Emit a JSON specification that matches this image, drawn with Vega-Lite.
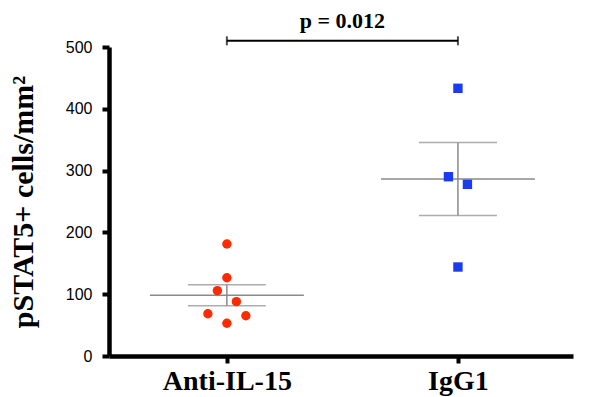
{
  "$schema": "https://vega.github.io/schema/vega-lite/v6.json",
  "width": 464,
  "height": 309,
  "autosize": "none",
  "padding": {"left": 109, "top": 47, "right": 35, "bottom": 41},
  "background": "white",
  "config": {"view": {"stroke": null}},
  "datasets": {
    "cells": [
      {"group": "Anti-IL-15", "value": 181.2, "jitter": 0},
      {"group": "Anti-IL-15", "value": 126.7, "jitter": 0},
      {"group": "Anti-IL-15", "value": 105.7, "jitter": -1},
      {"group": "Anti-IL-15", "value": 87.9, "jitter": 1},
      {"group": "Anti-IL-15", "value": 68.4, "jitter": -2},
      {"group": "Anti-IL-15", "value": 65.2, "jitter": 2},
      {"group": "Anti-IL-15", "value": 52.9, "jitter": 0},
      {"group": "IgG1", "value": 433.2, "jitter": 0},
      {"group": "IgG1", "value": 290.1, "jitter": -1},
      {"group": "IgG1", "value": 277.8, "jitter": 1},
      {"group": "IgG1", "value": 144.0, "jitter": 0}
    ],
    "bracket": [
      {"from": "Anti-IL-15", "to": "IgG1", "y": 510, "ty": 530, "label": "p = 0.012"}
    ]
  },
  "layer": [
    {
      "data": {"name": "cells"},
      "mark": {"type": "errorbar", "extent": "stderr", "color": "#8a8a8a", "thickness": 1.5, "size": 78, "ticks": true},
      "encoding": {
        "x": {
          "field": "group", "type": "nominal",
          "scale": {"type": "point", "domain": ["Anti-IL-15", "IgG1"], "padding": 0.504, "align": 0.506},
          "axis": {
            "title": null, "labelAngle": 0, "grid": false,
            "domainColor": "black", "domainWidth": 4.5, "tickColor": "black", "tickWidth": 4, "tickSize": 7,
            "labelFont": "Liberation Serif", "labelFontWeight": "bold", "labelFontSize": 28, "labelColor": "black", "labelPadding": 4
          }
        },
        "y": {
          "field": "value", "type": "quantitative",
          "scale": {"domain": [0, 500], "nice": false},
          "axis": {
            "title": "pSTAT5+ cells/mm²", "values": [0, 100, 200, 300, 400, 500], "grid": false,
            "domainColor": "black", "domainWidth": 4.5, "tickColor": "black", "tickWidth": 4, "tickSize": 7,
            "labelFont": "Liberation Sans", "labelFontSize": 16, "labelColor": "black", "labelPadding": 10,
            "titleFont": "Liberation Serif", "titleFontWeight": "bold", "titleFontSize": 30, "titleColor": "black", "titlePadding": 27
          }
        }
      }
    },
    {
      "data": {"name": "cells"},
      "mark": {"type": "tick", "color": "#8a8a8a", "thickness": 1.5, "size": 154},
      "encoding": {
        "x": {"field": "group", "type": "nominal"},
        "y": {"field": "value", "aggregate": "mean", "type": "quantitative"}
      }
    },
    {
      "data": {"name": "cells"},
      "mark": {"type": "point", "filled": true, "opacity": 1, "size": 88},
      "encoding": {
        "x": {"field": "group", "type": "nominal"},
        "xOffset": {"field": "jitter", "type": "quantitative", "scale": {"domain": [-2, 2], "range": [-19, 19]}},
        "y": {"field": "value", "type": "quantitative"},
        "color": {"field": "group", "type": "nominal", "scale": {"domain": ["Anti-IL-15", "IgG1"], "range": ["#ff2a00", "#1a3cf0"]}, "legend": null},
        "shape": {"field": "group", "type": "nominal", "scale": {"domain": ["Anti-IL-15", "IgG1"], "range": ["circle", "square"]}, "legend": null}
      }
    },
    {
      "data": {"name": "bracket"},
      "mark": {"type": "rule", "color": "black", "strokeWidth": 2},
      "encoding": {
        "x": {"field": "from", "type": "nominal"},
        "x2": {"field": "to"},
        "y": {"field": "y", "type": "quantitative"}
      }
    },
    {
      "data": {"name": "bracket"},
      "mark": {"type": "tick", "orient": "vertical", "color": "black", "thickness": 2, "size": 9},
      "encoding": {
        "x": {"field": "from", "type": "nominal"},
        "y": {"field": "y", "type": "quantitative"}
      }
    },
    {
      "data": {"name": "bracket"},
      "mark": {"type": "tick", "orient": "vertical", "color": "black", "thickness": 2, "size": 9},
      "encoding": {
        "x": {"field": "to", "type": "nominal"},
        "y": {"field": "y", "type": "quantitative"}
      }
    },
    {
      "data": {"name": "bracket"},
      "mark": {"type": "text", "font": "Liberation Serif", "fontWeight": "bold", "fontSize": 22, "color": "black", "align": "center", "baseline": "alphabetic", "dx": 115.5},
      "encoding": {
        "x": {"field": "from", "type": "nominal"},
        "y": {"field": "ty", "type": "quantitative"},
        "text": {"field": "label"}
      }
    }
  ]
}
